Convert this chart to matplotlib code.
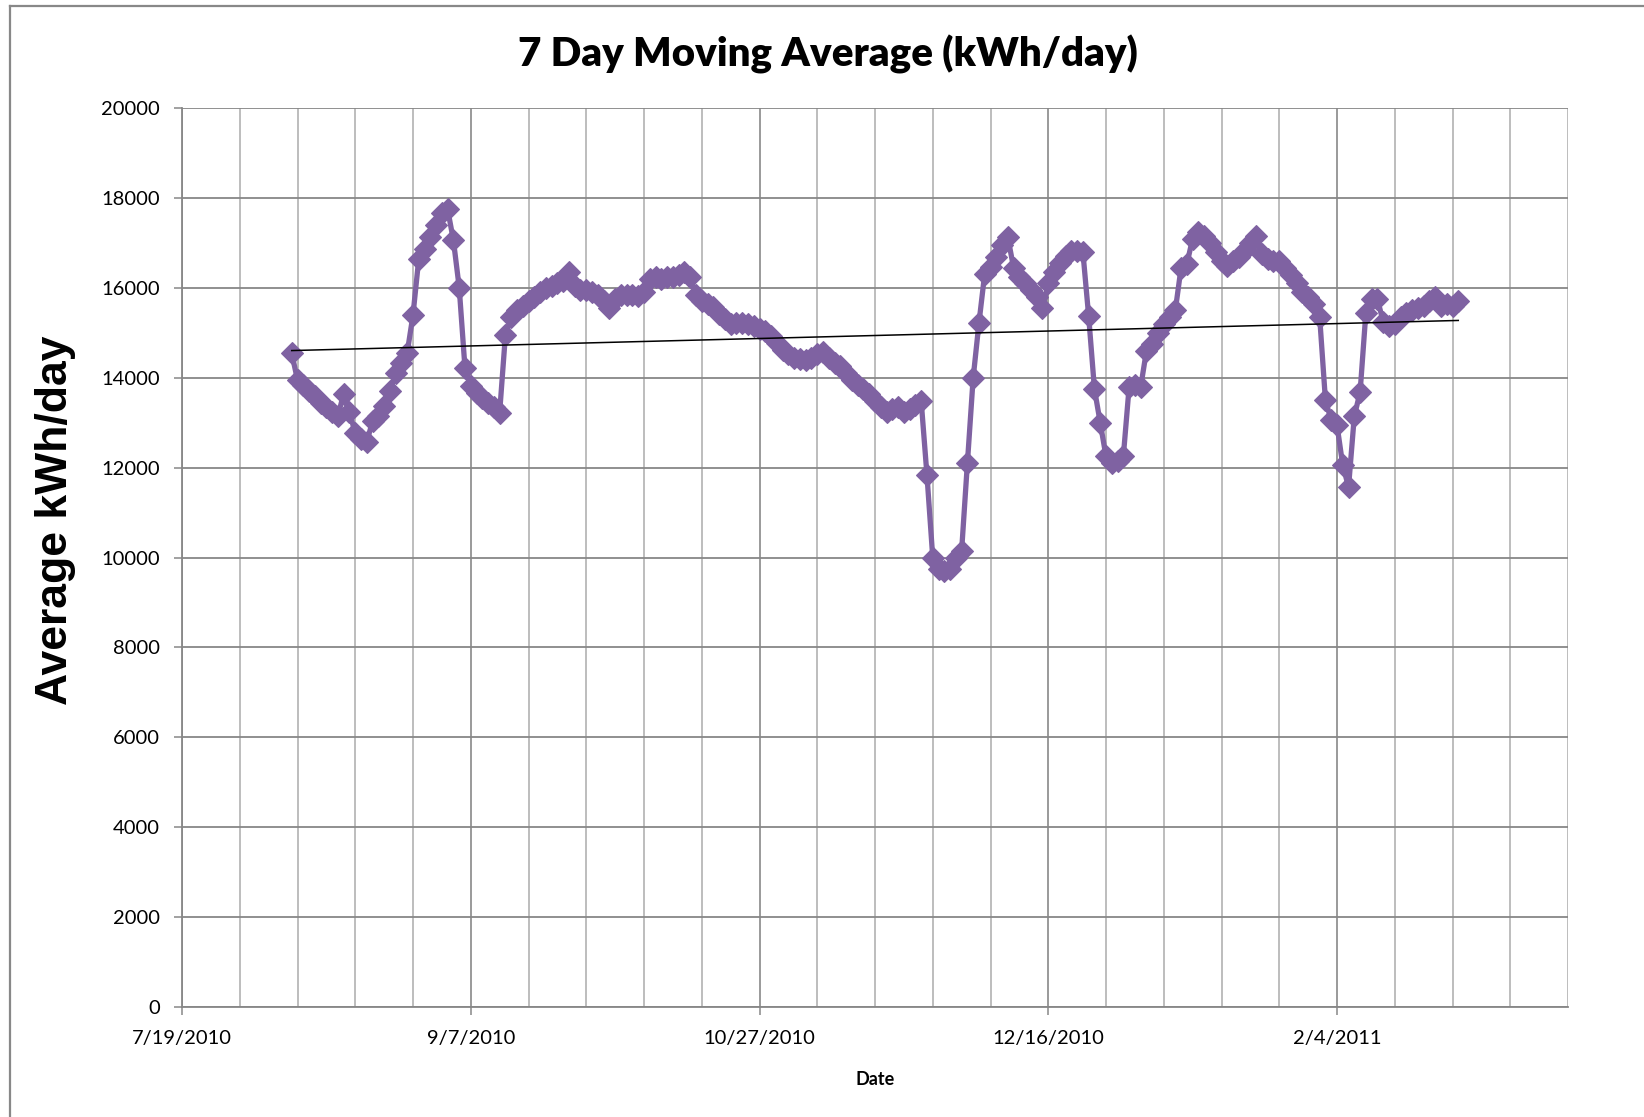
import numpy as np
import pandas as pd
import matplotlib
matplotlib.use("Agg")
import matplotlib.pyplot as plt
import matplotlib.dates as mdates
from matplotlib.lines import Line2D

# daily 7-day moving average, first reading 8/7/2010
first_day = "2010-08-07"
kwh_avg = [
    14550, 13950, 13850, 13700, 13600, 13450, 13350, 13250, 13150, 13650,
    13230, 12770, 12630, 12580, 13030, 13140, 13370, 13700, 14100, 14340,
    14560, 15400, 16650, 16870, 17130, 17400, 17660, 17750, 17060, 16010,
    14220, 13810, 13660, 13550, 13450, 13350, 13220, 14950, 15350, 15500,
    15600, 15700, 15800, 15900, 16000, 16050, 16100, 16150, 16350, 16050,
    15950, 15950, 15900, 15850, 15700, 15550, 15750, 15850, 15850, 15850,
    15830, 15900, 16200, 16250, 16200, 16250, 16250, 16300, 16350, 16250,
    15850, 15700, 15640, 15570, 15420, 15310, 15200, 15230, 15230, 15190,
    15160, 15080, 15040, 14930, 14780, 14630, 14520, 14450, 14410, 14400,
    14450, 14520, 14570, 14450, 14340, 14260, 14110, 13960, 13850, 13740,
    13630, 13480, 13350, 13250, 13300, 13350, 13250, 13300, 13400, 13480,
    11830, 10000, 9750, 9700, 9750, 10000, 10150, 12100, 14000, 15220,
    16320, 16470, 16680, 16950, 17130, 16450, 16250, 16100, 15950, 15800,
    15550, 16100, 16350, 16550, 16720, 16830, 16830, 16800, 15370, 13750,
    13000, 12250, 12100, 12150, 12250, 13790, 13830, 13790, 14600, 14750,
    15000, 15200, 15350, 15500, 16450, 16530, 17100, 17250, 17150, 17000,
    16800, 16600, 16500, 16600, 16700, 16850, 17000, 17150, 16750, 16650,
    16600, 16600, 16450, 16300, 16100, 15900, 15800, 15650, 15350, 13500,
    13050, 12950, 12050, 11570, 13150, 13680, 15450, 15750, 15750, 15250,
    15150, 15200, 15350, 15450, 15500, 15550, 15600, 15700, 15800, 15600,
    15650, 15600, 15700,
]
x_start, x_end = "2010-07-19", "2011-03-16"
y_ticks = [0, 2000, 4000, 6000, 8000, 10000, 12000, 14000, 16000, 18000, 20000]

dates = pd.date_range(first_day, periods=len(kwh_avg), freq="D")
purple = "#7F62A2"

fig = plt.figure(figsize=(16.44, 11.17), dpi=100)
ax = fig.add_axes([182 / 1644, 1 - 1006.7 / 1117, 1386 / 1644, 898.4 / 1117])

ax.plot(dates, kwh_avg, color=purple, lw=3.8, marker="D", ms=11.5,
        mfc=purple, mec=purple, mew=0.8, zorder=3)

# linear trend line (least squares, like Excel)
xnum = mdates.date2num(dates)
slope, icpt = np.polyfit(xnum, kwh_avg, 1)
ax.plot(dates, slope * xnum + icpt, color="black", lw=1.1, zorder=4)

# axes
ax.set_xlim(pd.Timestamp(x_start), pd.Timestamp(x_end))
ax.set_ylim(0, 20000)
ax.set_yticks(y_ticks)
major = pd.date_range(x_start, x_end, freq="50D")
minor = pd.date_range(x_start, x_end, freq="10D")
ax.set_xticks(major)
ax.set_xticklabels([f"{d.month}/{d.day}/{d.year}" for d in major])
ax.set_xticks(minor, minor=True)

ax.grid(axis="y", color="#878787", lw=1.3)
ax.grid(axis="x", which="major", color="#9a9a9a", lw=1.4)
ax.grid(axis="x", which="minor", color="#b8b8b8", lw=1.3)
ax.set_axisbelow(True)

for s in ["top", "right"]:
    ax.spines[s].set_visible(False)
for s in ["left", "bottom"]:
    ax.spines[s].set_color("#878787")
    ax.spines[s].set_linewidth(1.3)

ax.tick_params(axis="both", which="major", length=6, width=1.1, color="#878787",
               labelsize=14.5, labelcolor="black")
ax.tick_params(axis="y", pad=10)
ax.tick_params(axis="x", pad=11)
ax.tick_params(axis="x", which="minor", length=0)
for lab in ax.get_xticklabels() + ax.get_yticklabels():
    lab.set_family("Lato")

fig.text(828 / 1644, 1 - 54 / 1117, "7 Day Moving Average (kWh/day)",
         family="Lato", weight="heavy", fontsize=29, ha="center", va="center")
fig.text(55 / 1644, 1 - 520 / 1117, "Average kWh/day", family="Liberation Sans",
         weight="bold", fontsize=32, rotation=90, ha="center", va="center")
ax.set_xlabel("Date", family="Lato", weight="bold", fontsize=13, labelpad=17)

# outer chart border (left and top edges visible)
fig.add_artist(Line2D([10 / 1644, 10 / 1644], [0, 1 - 6 / 1117],
                      transform=fig.transFigure, color="#888888", lw=1.6))
fig.add_artist(Line2D([10 / 1644, 1], [1 - 6 / 1117, 1 - 6 / 1117],
                      transform=fig.transFigure, color="#888888", lw=1.6))

fig.savefig("out.png", dpi=100)
